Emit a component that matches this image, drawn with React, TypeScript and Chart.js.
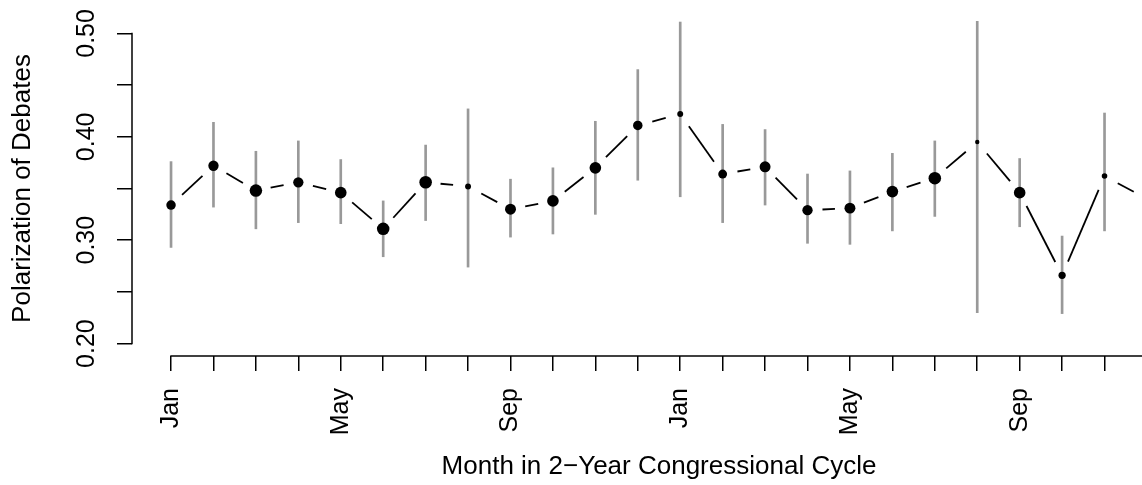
import { useEffect, useRef } from 'react';
import { Chart, registerables } from 'chart.js';

Chart.register(...registerables);

// ---- data ----
const monthLabels = ['Jan', '', '', '', 'May', '', '', '', 'Sep', '', '', '', 'Jan', '', '', '', 'May', '', '', '', 'Sep', '', '', ''];
const polarization = [0.334, 0.372, 0.348, 0.356, 0.346, 0.311, 0.356, 0.352, 0.330, 0.338, 0.370, 0.411, 0.422, 0.364, 0.371, 0.329, 0.331, 0.347, 0.360, 0.395, 0.346, 0.266, 0.362, 0.340];
const ciLower = [0.293, 0.332, 0.311, 0.317, 0.316, 0.284, 0.319, 0.274, 0.303, 0.306, 0.325, 0.358, 0.342, 0.317, 0.334, 0.297, 0.296, 0.309, 0.323, 0.230, 0.313, 0.229, 0.309, 0.300];
const ciUpper = [0.376, 0.414, 0.386, 0.396, 0.378, 0.338, 0.392, 0.427, 0.359, 0.370, 0.415, 0.465, 0.511, 0.412, 0.407, 0.364, 0.367, 0.384, 0.396, 0.513, 0.379, 0.304, 0.423, 0.380];
const obsWeight = [0.72, 0.78, 0.95, 0.78, 0.88, 0.95, 0.95, 0.45, 0.83, 0.88, 0.88, 0.72, 0.45, 0.67, 0.83, 0.78, 0.83, 0.88, 0.95, 0.33, 0.88, 0.55, 0.42, 0.67];
const yTickValues = [0.2, 0.25, 0.3, 0.35, 0.4, 0.45, 0.5];
const yTickLabels = ['0.20', '', '0.30', '', '0.40', '', '0.50'];

const FONT = "'Liberation Sans', Arial, Helvetica, sans-serif";
const CANVAS_W = 1186;
const CANVAS_H = 485;
const RADIUS_SCALE = 6.6;

const rAxesPlugin = {
  id: 'rAxes',
  afterDraw(chart: any) {
    const { ctx, chartArea, scales } = chart;
    const x = scales.x;
    const y = scales.y;
    ctx.save();
    ctx.strokeStyle = '#000';
    ctx.lineWidth = 1.5;
    ctx.lineCap = 'butt';
    ctx.beginPath();
    ctx.moveTo(x.getPixelForValue(1) - 0.75, chartArea.bottom);
    ctx.lineTo(x.getPixelForValue(monthLabels.length) + 0.75, chartArea.bottom);
    ctx.stroke();
    ctx.beginPath();
    ctx.moveTo(chartArea.left, y.getPixelForValue(yTickValues[0]) + 0.75);
    ctx.lineTo(chartArea.left, y.getPixelForValue(yTickValues[yTickValues.length - 1]) - 0.75);
    ctx.stroke();
    ctx.restore();
  },
};

const gapLinePlugin = {
  id: 'gapLine',
  afterDatasetsDraw(chart: any) {
    const meta = chart.getDatasetMeta(0);
    const pts = meta.data;
    const gap = 15;
    const { ctx } = chart;
    ctx.save();
    ctx.strokeStyle = '#000';
    ctx.lineWidth = 1.8;
    ctx.lineCap = 'butt';
    for (let i = 0; i < pts.length - 1; i++) {
      const a = pts[i];
      const b = pts[i + 1];
      const dx = b.x - a.x;
      const dy = b.y - a.y;
      const len = Math.hypot(dx, dy);
      if (len <= 2 * gap) continue;
      const ux = dx / len;
      const uy = dy / len;
      ctx.beginPath();
      ctx.moveTo(a.x + ux * gap, a.y + uy * gap);
      ctx.lineTo(b.x - ux * gap, b.y - uy * gap);
      ctx.stroke();
    }
    ctx.restore();
  },
};

export default function App() {
  const canvasRef = useRef<HTMLCanvasElement | null>(null);

  useEffect(() => {
    if (!canvasRef.current) return;
    const chart = new Chart(canvasRef.current, {
      type: 'scatter',
      data: {
        datasets: [
          {
            type: 'scatter',
            data: polarization.map((v, i) => ({ x: i + 1, y: v })),
            pointRadius: obsWeight.map((w) => w * RADIUS_SCALE),
            pointHoverRadius: obsWeight.map((w) => w * RADIUS_SCALE),
            pointBackgroundColor: '#000',
            pointBorderWidth: 0,
            order: 0,
          } as any,
          {
            type: 'bar',
            data: ciLower.map((lo, i) => ({ x: i + 1, y: [lo, ciUpper[i]] })),
            backgroundColor: '#999999',
            borderWidth: 0,
            barThickness: 2,
            grouped: false,
            order: 1,
          } as any,
        ],
      },
      options: {
        animation: false,
        responsive: true,
        maintainAspectRatio: false,
        events: [],
        layout: { autoPadding: false, padding: { top: 21, left: 0, right: 0, bottom: 0 } },
        plugins: {
          legend: { display: false },
          tooltip: { enabled: false },
        },
        scales: {
          x: {
            type: 'linear',
            position: 'bottom',
            min: 0.08,
            max: 24.92,
            offset: false,
            afterBuildTicks: (scale: any) => {
              scale.ticks = monthLabels.map((_, i) => ({ value: i + 1 }));
            },
            afterFit: (scale: any) => {
              scale.height = CANVAS_H - 356;
              scale.paddingLeft = 0;
              scale.paddingRight = 0;
            },
            border: { display: false },
            grid: {
              drawOnChartArea: false,
              drawTicks: true,
              tickLength: 15,
              color: '#000',
              lineWidth: 1.5,
              offset: false,
            },
            ticks: {
              autoSkip: false,
              minRotation: 90,
              maxRotation: 90,
              padding: 17,
              color: '#000',
              font: { family: FONT, size: 25 },
              callback: (_v: any, index: number) => monthLabels[index],
            },
            title: {
              display: true,
              text: 'Month in 2\u2212Year Congressional Cycle',
              color: '#000',
              font: { family: FONT, size: 26 },
              padding: { top: 0, bottom: 3 },
            },
          },
          y: {
            type: 'linear',
            position: 'left',
            min: 0.188,
            max: 0.512,
            afterBuildTicks: (scale: any) => {
              scale.ticks = yTickValues.map((v) => ({ value: v }));
            },
            afterFit: (scale: any) => {
              scale.width = 132;
              scale.paddingTop = 0;
              scale.paddingBottom = 0;
            },
            border: { display: false },
            grid: {
              drawOnChartArea: false,
              drawTicks: true,
              tickLength: 15,
              color: '#000',
              lineWidth: 1.5,
            },
            ticks: {
              minRotation: 90,
              maxRotation: 90,
              crossAlign: 'center',
              padding: 6,
              color: '#000',
              font: { family: FONT, size: 25 },
              callback: (_v: any, index: number) => yTickLabels[index],
            },
            title: {
              display: true,
              text: 'Polarization of Debates',
              color: '#000',
              font: { family: FONT, size: 26 },
              padding: { top: 7, bottom: 0 },
            },
          },
        },
      } as any,
      plugins: [rAxesPlugin, gapLinePlugin],
    });
    return () => chart.destroy();
  }, []);

  return (
    <div
      style={{
        position: 'fixed',
        left: 0,
        top: 0,
        width: 1142,
        height: CANVAS_H,
        overflow: 'hidden',
        background: '#fff',
      }}
    >
      <div style={{ position: 'relative', width: CANVAS_W, height: CANVAS_H }}>
        <canvas ref={canvasRef} />
      </div>
    </div>
  );
}
